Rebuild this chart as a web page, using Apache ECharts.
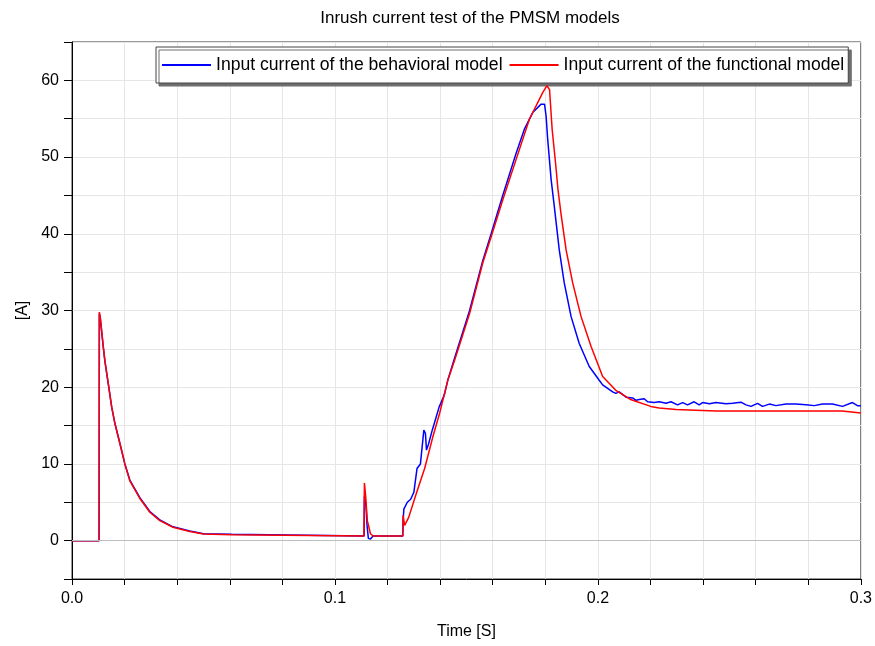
<!DOCTYPE html>
<html>
<head>
<meta charset="utf-8">
<script src="https://cdn.jsdelivr.net/npm/echarts@6/dist/echarts.min.js"></script>
<style>
html,body{margin:0;padding:0;background:#fff;}
#chart{width:875px;height:646px;}
</style>
</head>
<body>
<div id="chart"></div>
<script>
const titleText = "Inrush current test of the PMSM models";
const xAxisName = "Time [S]";
const yAxisName = "[A]";
const seriesNames = ["Input current of the behavioral model", "Input current of the functional model"];

const behavioral = [
  [0,0],[0.0103,0],[0.0104,29.6],[0.0108,28.8],[0.0119,25.2],[0.0125,23.4],[0.0138,20.4],[0.0151,17.4],
  [0.0163,15.3],[0.0182,12.7],[0.0201,10.0],[0.022,7.9],[0.0258,5.6],[0.0296,3.8],[0.0334,2.7],
  [0.0384,1.8],[0.0448,1.25],[0.050,0.9],[0.0607,0.82],[0.061,0.6],[0.1111,0.6],[0.1112,5.8],
  [0.1118,4.6],[0.1122,2.0],[0.1127,0.3],[0.1135,0.2],[0.1145,0.6],[0.1258,0.6],[0.1259,2.5],
  [0.1262,4.1],[0.1275,5.0],[0.1288,5.4],[0.1300,6.3],[0.1312,9.4],[0.1325,10.0],[0.1338,14.4],
  [0.1344,14.0],[0.1348,11.8],[0.1356,12.6],[0.1370,14.4],[0.1383,15.9],[0.1396,17.4],[0.1416,19.0],
  [0.1429,20.9],[0.1455,23.8],[0.1512,30.0],[0.1562,36.5],[0.1594,40.0],[0.1638,45.0],[0.1689,50.5],
  [0.172,53.6],[0.1752,55.8],[0.1784,56.9],[0.1797,56.9],[0.1803,55.3],[0.1809,52.3],[0.1822,47.1],
  [0.1834,43.6],[0.1853,37.9],[0.1872,33.6],[0.1898,29.2],[0.1929,25.7],[0.1967,22.7],[0.2005,20.9],
  [0.2018,20.3],[0.2056,19.4],[0.2068,19.2],[0.2081,19.4],[0.2107,18.7],[0.2132,18.6],[0.2145,18.3],
  [0.2157,18.4],[0.2176,18.5],[0.2189,18.1],[0.2214,18.0],[0.2233,18.1],[0.2259,17.9],[0.2278,18.1],
  [0.2303,17.7],[0.2322,18.0],[0.2341,17.7],[0.2366,18.1],[0.2385,17.7],[0.2398,18.0],[0.2424,17.85],
  [0.2449,18.0],[0.2487,17.85],[0.2512,17.9],[0.2544,18.05],[0.2563,17.7],[0.2582,17.5],[0.2607,17.9],
  [0.2626,17.5],[0.2652,17.8],[0.2677,17.6],[0.2715,17.8],[0.2753,17.8],[0.2791,17.7],[0.2823,17.6],
  [0.2854,17.8],[0.2892,17.8],[0.293,17.5],[0.2968,18.0],[0.2987,17.6],[0.3,17.6]
];

const functional = [
  [0,0],[0.0103,0],[0.0104,29.8],[0.0108,29.0],[0.0119,25.3],[0.0125,23.5],[0.0138,20.5],[0.0151,17.4],
  [0.0163,15.3],[0.0182,12.7],[0.0201,10.0],[0.022,7.8],[0.0258,5.5],[0.0296,3.7],[0.0334,2.6],
  [0.0384,1.74],[0.0448,1.2],[0.050,0.87],[0.0607,0.78],[0.061,0.6],[0.111,0.6],[0.1112,7.5],
  [0.1117,5.7],[0.1123,2.6],[0.1135,0.9],[0.1145,0.6],[0.1258,0.6],[0.1259,3.3],[0.1265,2.0],
  [0.128,3.0],[0.1309,6.1],[0.1341,9.4],[0.1372,13.5],[0.1398,16.6],[0.1429,20.9],[0.1455,23.5],
  [0.1512,29.6],[0.1562,36.2],[0.1594,39.6],[0.1638,44.4],[0.1689,49.7],[0.1739,54.9],[0.179,58.4],
  [0.1806,59.3],[0.1812,59.2],[0.1816,58.8],[0.1826,53.6],[0.1839,49.2],[0.1848,45.8],[0.1860,42.5],
  [0.1879,37.9],[0.1904,33.6],[0.1936,29.2],[0.1974,25.3],[0.2018,21.4],[0.2068,19.6],[0.2119,18.5],
  [0.2132,18.3],[0.2201,17.5],[0.2233,17.3],[0.2297,17.1],[0.2449,16.9],[0.2928,16.9],[0.293,16.65],
  [0.3,16.65]
];

const xMin = 0, xMax = 0.3, xInterval = 0.02;
const yMin = -5, yMax = 65, yInterval = 5;

const chart = echarts.init(document.getElementById('chart'), null, {renderer: 'canvas'});
const font = 'Liberation Sans';
chart.setOption({
  animation: false,
  backgroundColor: '#fff',
  title: {
    text: titleText, left: 465, top: 5, textAlign: 'center',
    textStyle: {fontFamily: font, fontSize: 17, fontWeight: 'normal', color: '#000'}
  },
  legend: {
    left: 156, top: 47, orient: 'horizontal',
    backgroundColor: '#fff', borderColor: '#444', borderWidth: 1,
    shadowColor: 'rgba(110,110,110,1)', shadowOffsetX: 3, shadowOffsetY: 3, shadowBlur: 0,
    padding: [9, 4, 9, 6], itemGap: 7, itemWidth: 49, itemHeight: 2, icon: 'rect',
    textStyle: {fontFamily: font, fontSize: 17.6, color: '#000'},
    data: seriesNames
  },
  grid: {left: 72, right: 13, top: 42, bottom: 67, show: true, borderColor: '#333', borderWidth: 1},
  xAxis: {
    type: 'value', min: xMin, max: xMax, interval: xInterval,
    name: xAxisName, nameLocation: 'middle', nameGap: 45,
    nameTextStyle: {fontFamily: font, fontSize: 16, color: '#000'},
    axisLine: {onZero: false, lineStyle: {color: '#000', width: 1}},
    axisTick: {show: true, length: 6, lineStyle: {color: '#000'}},
    axisLabel: {
      fontFamily: font, fontSize: 16, color: '#000', margin: 12,
      formatter: function (v) {
        const r = Math.round(v * 10);
        return Math.abs(v * 10 - r) < 1e-6 ? (r / 10).toFixed(1) : '';
      }
    },
    splitLine: {show: true, lineStyle: {color: '#e6e6e6', width: 1}}
  },
  yAxis: {
    type: 'value', min: yMin, max: yMax, interval: yInterval,
    name: yAxisName, nameLocation: 'middle', nameGap: 41, nameRotate: 90,
    nameTextStyle: {fontFamily: font, fontSize: 16, color: '#000'},
    axisLine: {show: true, lineStyle: {color: '#000', width: 1}},
    axisTick: {show: true, length: 8, lineStyle: {color: '#000'}},
    axisLabel: {
      fontFamily: font, fontSize: 16, color: '#000', margin: 13,
      formatter: function (v) {
        return (Math.round(v) % 10 === 0) ? String(Math.round(v)) : '';
      }
    },
    splitLine: {show: true, lineStyle: {color: '#e6e6e6', width: 1}}
  },
  series: [
    {
      name: seriesNames[0], type: 'line', data: behavioral, symbol: 'none',
      lineStyle: {color: '#0000ff', width: 1.5}, itemStyle: {color: '#0000ff'}, z: 3,
      markLine: {
        silent: true, symbol: 'none', label: {show: false},
        lineStyle: {color: '#bdbdbd', width: 1, type: 'solid'},
        data: [{yAxis: 0}]
      }
    },
    {
      name: seriesNames[1], type: 'line', data: functional, symbol: 'none',
      lineStyle: {color: '#ff0000', width: 1.5}, itemStyle: {color: '#ff0000'}, z: 4
    }
  ]
});
</script>
</body>
</html>
